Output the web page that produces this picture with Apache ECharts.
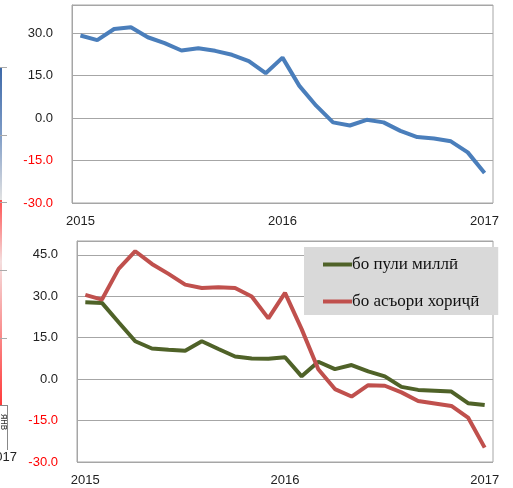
<!DOCTYPE html>
<html><head><meta charset="utf-8">
<script src="https://cdn.jsdelivr.net/npm/echarts@6/dist/echarts.min.js"></script>
<style>html,body{margin:0;padding:0;background:#fff}#c{width:513px;height:488px}</style>
</head><body><div id="c"></div>
<script>
const months = ['2015-01','2015-02','2015-03','2015-04','2015-05','2015-06','2015-07','2015-08','2015-09','2015-10','2015-11','2015-12',
  '2016-01','2016-02','2016-03','2016-04','2016-05','2016-06','2016-07','2016-08','2016-09','2016-10','2016-11','2016-12','2017-01'];
const yearLabels = ['2015','2016','2017'];
const totalGrowth = [29.2,27.6,31.5,32.1,28.6,26.5,23.9,24.7,23.8,22.4,20.2,15.9,21.4,11.4,4.4,-1.5,-2.6,-0.6,-1.5,-4.5,-6.7,-7.2,-8.2,-12.1,-19.4];
const nationalCurrency = [27.8,27.6,20.6,13.7,11.1,10.6,10.3,13.7,10.9,8.2,7.5,7.4,7.9,1.0,6.3,3.6,5.1,2.8,1.0,-2.8,-3.9,-4.2,-4.5,-8.7,-9.4];
const foreignCurrency = [30.5,28.8,39.9,46.3,41.7,38.1,34.2,33.0,33.3,33.0,29.9,22.0,31.2,18.1,3.6,-3.6,-6.3,-2.2,-2.4,-4.8,-7.9,-8.8,-9.7,-13.9,-24.8];
const seriesNames = ['бо пули миллӣ','бо асъори хориҷӣ'];

const gridColor = '#a6a6a6';
const labelFont = 'Liberation Sans, Arial, sans-serif';

function xAxisCfg(gridIndex){
  return {
    type:'category', gridIndex, data: months, boundaryGap:true,
    axisLine:{show:false}, axisTick:{show:false}, splitLine:{show:false},
    axisLabel:{
      interval:(i,v)=>v.endsWith('-01'),
      formatter:v=>yearLabels.find(y=>v.startsWith(y)) || '',
      fontFamily:labelFont, fontSize:13, color:'#222', margin:12
    }
  };
}
function yAxisCfg(gridIndex,max){
  return {
    type:'value', gridIndex, min:-30, max, interval:15,
    axisLine:{show:true,lineStyle:{color:gridColor}}, axisTick:{show:false},
    splitLine:{show:true,lineStyle:{color:gridColor,width:1}},
    axisLabel:{
      showMaxLabel:false, showMinLabel:true,
      formatter:v=>Number(v).toFixed(1),
      color:v=>Number(v)<0?'#ff0000':'#222',
      fontFamily:labelFont, fontSize:13, margin:19
    }
  };
}

const chart = echarts.init(document.getElementById('c'), null, {renderer:'canvas'});
chart.setOption({
  animation:false,
  backgroundColor:'#fff',
  grid:[
    {left:72, right:20, top:5, height:198, show:true, borderColor:gridColor, borderWidth:1, backgroundColor:'transparent'},
    {left:77, right:20, top:241, height:221, show:true, borderColor:gridColor, borderWidth:1, backgroundColor:'transparent'}
  ],
  xAxis:[xAxisCfg(0), xAxisCfg(1)],
  yAxis:[yAxisCfg(0,40), yAxisCfg(1,50)],
  legend:{
    data:seriesNames, orient:'vertical', left:304, top:247,
    backgroundColor:'#d9d9d9', padding:[9,19,5,19], itemGap:20,
    icon:'rect', itemWidth:29, itemHeight:4,
    textStyle:{fontFamily:'Liberation Serif, DejaVu Serif, serif', fontSize:17, color:'#111', padding:[0,0,0,-5]}
  },
  series:[
    {type:'line', name:'total', xAxisIndex:0, yAxisIndex:0, data:totalGrowth, showSymbol:false,
     lineStyle:{color:'#4a7ebb', width:4}, itemStyle:{color:'#4a7ebb'}},
    {type:'line', name:seriesNames[0], xAxisIndex:1, yAxisIndex:1, data:nationalCurrency, showSymbol:false,
     lineStyle:{color:'#4f6228', width:4}, itemStyle:{color:'#4f6228'}},
    {type:'line', name:seriesNames[1], xAxisIndex:1, yAxisIndex:1, data:foreignCurrency, showSymbol:false,
     lineStyle:{color:'#c0504d', width:4}, itemStyle:{color:'#c0504d'}}
  ],
  graphic:[
    {type:'rect', shape:{x:0,y:67,width:2,height:133}, style:{fill:new echarts.graphic.LinearGradient(0,0,0,1,[{offset:0,color:'#3c68a8'},{offset:0.5,color:'#7d9bc6'},{offset:1,color:'#e2e2e2'}])}},
    {type:'rect', shape:{x:0,y:200,width:2,height:205}, style:{fill:new echarts.graphic.LinearGradient(0,0,0,1,[{offset:0,color:'#ff5050'},{offset:0.3,color:'#f4dede'},{offset:1,color:'#ff3a3a'}])}},
    {type:'line', shape:{x1:0,y1:67.5,x2:7,y2:67.5}, style:{stroke:'#aaa',lineWidth:1}},
    {type:'line', shape:{x1:0,y1:135.5,x2:7,y2:135.5}, style:{stroke:'#aaa',lineWidth:1}},
    {type:'line', shape:{x1:0,y1:202.5,x2:7,y2:202.5}, style:{stroke:'#aaa',lineWidth:1}},
    {type:'line', shape:{x1:0,y1:270.5,x2:7,y2:270.5}, style:{stroke:'#aaa',lineWidth:1}},
    {type:'line', shape:{x1:0,y1:338.5,x2:7,y2:338.5}, style:{stroke:'#aaa',lineWidth:1}},
    {type:'line', shape:{x1:0,y1:405.5,x2:7.5,y2:405.5}, style:{stroke:'#888',lineWidth:1}},
    {type:'line', shape:{x1:7.5,y1:405,x2:7.5,y2:450}, style:{stroke:'#888',lineWidth:1}},
    {type:'text', x:4, y:422, rotation:-Math.PI/2, style:{text:'янв', font:'10px Liberation Sans, sans-serif', fill:'#333', align:'center', verticalAlign:'middle'}},
    {type:'text', x:17, y:457, style:{text:'2017', font:'13px Liberation Sans, sans-serif', fill:'#222', align:'right', verticalAlign:'middle'}}
  ]
});
</script></body></html>
